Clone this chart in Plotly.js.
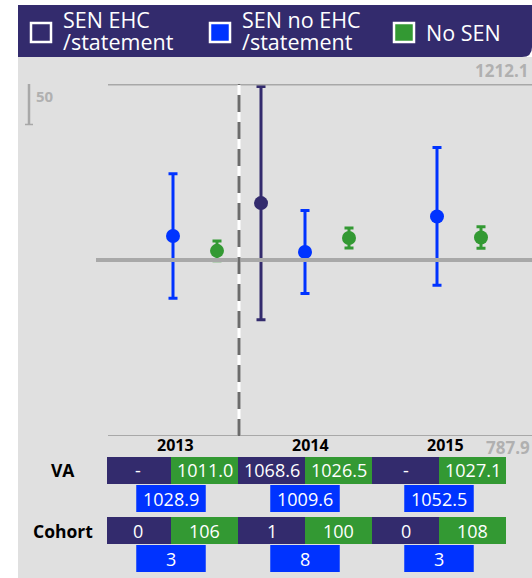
<!DOCTYPE html>
<html>
<head>
<meta charset="utf-8">
<script src="https://cdn.plot.ly/plotly-3.0.1.min.js"></script>
<style>html,body{margin:0;padding:0;background:#fff;}#chart{width:532px;height:578px;}</style>
</head>
<body>
<div id="chart"></div>
<script>
// ---- data ----
const years = ['2013', '2014', '2015'];
const seriesNames = ['SEN EHC', 'SEN no EHC', 'No SEN'];
const ehcVA = [null, 1068.6, null];
const ehcErr = [null, 140.5, null];
const noEhcVA = [1028.9, 1009.6, 1052.5];
const noEhcErr = [75, 50, 83];
const noSenVA = [1011.0, 1026.5, 1027.1];
const noSenErr = [12, 12, 13];
const ehcCohort = [0, 1, 0];
const noEhcCohort = [3, 8, 3];
const noSenCohort = [106, 100, 108];
const yMin = 787.9, yMax = 1212.1, yMid = 1000;
const scaleLen = 50;

// ---- style ----
const NAVY = '#332b6d', BLUE = '#0033ff', GREEN = '#339933', BG = '#e0e0e0', LINE = '#a8a8a8', LBL = '#b0b0b0';
const FONT = 'Open Sans, Noto Sans, sans-serif';
const L = 107, T = 84, PW = 425, PH = 352, Y0 = T + PH;
const px = x => (x - L) / PW;
const py = y => (Y0 - y) / PH;

function errTrace(vals, errs, off, color) {
  const x = [], y = [], e = [];
  vals.forEach((v, i) => { if (v !== null) { x.push(i + off); y.push(v); e.push(errs[i]); } });
  return {
    type: 'scatter', mode: 'markers', x, y, hoverinfo: 'skip', showlegend: false,
    marker: {color, size: 14},
    error_y: {type: 'data', array: e, visible: true, color, thickness: 3, width: 4.5}
  };
}
const traces = [
  errTrace(ehcVA, ehcErr, -1/3, NAVY),
  errTrace(noEhcVA, noEhcErr, 0, BLUE),
  errTrace(noSenVA, noSenErr, 1/3, GREEN)
];

const shapes = [];
const ann = [];
// background
shapes.push({type: 'rect', xref: 'paper', yref: 'paper', x0: px(18), x1: 1, y0: py(578), y1: py(57), fillcolor: BG, line: {width: 0}, layer: 'below'});
// legend bar with rounded bottom-right corner
(function () {
  const x0 = px(18), x1 = 1, yt = py(5), yb = py(57), rx = 10 / PW, ry = 10 / PH;
  shapes.push({type: 'path', xref: 'paper', yref: 'paper', layer: 'below',
    path: `M ${x0},${yt} L ${x1},${yt} L ${x1},${yb + ry} Q ${x1},${yb} ${x1 - rx},${yb} L ${x0},${yb} Z`,
    fillcolor: NAVY, line: {width: 0}});
})();
// legend items
const legX = [30, 209, 393];
const legCol = [NAVY, BLUE, GREEN];
legX.forEach((x, k) => {
  shapes.push({type: 'rect', xref: 'paper', yref: 'paper', x0: px(x + 1), x1: px(x + 21), y0: py(42), y1: py(23), fillcolor: legCol[k], line: {color: '#ffffff', width: 2.5}});
});
const legTxt = [[seriesNames[0], '/statement'], [seriesNames[1], '/statement'], [seriesNames[2]]];
const LF = {family: FONT, size: 21.5, color: '#ffffff'};
legTxt.forEach((lines, k) => {
  const tx = legX[k] + 31;
  if (lines.length === 2) {
    ann.push({xref: 'paper', yref: 'paper', x: px(tx), y: py(20), text: lines[0], showarrow: false, xanchor: 'left', yanchor: 'middle', font: LF});
    ann.push({xref: 'paper', yref: 'paper', x: px(tx), y: py(41), text: lines[1], showarrow: false, xanchor: 'left', yanchor: 'middle', font: LF});
  } else {
    ann.push({xref: 'paper', yref: 'paper', x: px(tx), y: py(32), text: lines[0], showarrow: false, xanchor: 'left', yanchor: 'middle', font: LF});
  }
});
// reference lines
shapes.push({type: 'line', xref: 'paper', yref: 'y', x0: px(108), x1: 1, y0: yMax, y1: yMax, line: {color: LINE, width: 3}});
shapes.push({type: 'line', xref: 'paper', yref: 'y', x0: px(96), x1: 1, y0: yMid, y1: yMid, line: {color: LINE, width: 4}});
shapes.push({type: 'line', xref: 'paper', yref: 'y', x0: px(108), x1: 1, y0: yMin, y1: yMin, line: {color: LINE, width: 2}});
// dashed divider
shapes.push({type: 'line', xref: 'x', yref: 'y', x0: 0.5, x1: 0.5, y0: yMin, y1: yMax, line: {color: '#ffffff', width: 3}});
shapes.push({type: 'line', xref: 'x', yref: 'y', x0: 0.5, x1: 0.5, y0: yMin, y1: yMax, line: {color: '#6b6b6b', width: 3, dash: '17px,10px'}});
// scale bar
const sbTop = yMax + 1.2;
shapes.push({type: 'line', xref: 'paper', yref: 'y', x0: px(29), x1: px(29), y0: sbTop, y1: sbTop - scaleLen, line: {color: LINE, width: 2.5}});
shapes.push({type: 'line', xref: 'paper', yref: 'y', x0: px(25), x1: px(33), y0: sbTop, y1: sbTop, line: {color: LINE, width: 1.5}});
shapes.push({type: 'line', xref: 'paper', yref: 'y', x0: px(25), x1: px(33), y0: sbTop - scaleLen, y1: sbTop - scaleLen, line: {color: LINE, width: 1.5}});
ann.push({xref: 'paper', yref: 'paper', x: px(34), y: py(96), text: '<b>' + scaleLen + '</b>', showarrow: false, xanchor: 'left', yanchor: 'middle', font: {family: FONT, size: 15, color: LBL}});
ann.push({xref: 'paper', yref: 'paper', x: px(530), y: py(70), text: '<b>' + yMax.toFixed(1) + '</b>', showarrow: false, xanchor: 'right', yanchor: 'middle', font: {family: FONT, size: 17, color: LBL}});
ann.push({xref: 'paper', yref: 'paper', x: px(532), y: py(447), text: '<b>' + yMin.toFixed(1) + '</b>', showarrow: false, xanchor: 'right', yanchor: 'middle', font: {family: FONT, size: 17, color: LBL}});
// year labels
const yearShift = [2, 5, 8];
years.forEach((yr, i) => {
  ann.push({xref: 'x', yref: 'paper', x: i, y: py(445), xshift: yearShift[i], text: '<b>' + yr + '</b>', showarrow: false, xanchor: 'center', yanchor: 'middle', font: {family: FONT, size: 16, color: '#000000'}});
});
// table rows
ann.push({xref: 'paper', yref: 'paper', x: px(63), y: py(470), text: '<b>VA</b>', showarrow: false, xanchor: 'center', yanchor: 'middle', font: {family: FONT, size: 17.5, color: '#000000'}});
ann.push({xref: 'paper', yref: 'paper', x: px(63), y: py(531), text: '<b>Cohort</b>', showarrow: false, xanchor: 'center', yanchor: 'middle', font: {family: FONT, size: 17.5, color: '#000000'}});
const cellW = 67 / 132, blueW = 69.5 / 132;
function cell(xc, w, ytop, ybot, color, text) {
  shapes.push({type: 'rect', xref: 'x', yref: 'paper', x0: xc - w / 2, x1: xc + w / 2, y0: py(ybot), y1: py(ytop), fillcolor: color, line: {width: 0}});
  ann.push({xref: 'x', yref: 'paper', x: xc, y: py((ytop + ybot) / 2), text: text, showarrow: false, xanchor: 'center', yanchor: 'middle', font: {family: FONT, size: 18, color: '#ffffff'}});
}
years.forEach((yr, i) => {
  const c = i * (1 + 2 / 132) - 2 / 132;
  cell(c - cellW / 2, cellW, 457, 484, NAVY, ehcVA[i] === null ? '-' : ehcVA[i].toFixed(1));
  cell(c + cellW / 2, cellW, 457, 484, GREEN, noSenVA[i].toFixed(1));
  cell(c, blueW, 485, 512, BLUE, noEhcVA[i].toFixed(1));
  cell(c - cellW / 2, cellW, 517, 544, NAVY, String(ehcCohort[i]));
  cell(c + cellW / 2, cellW, 517, 544, GREEN, String(noSenCohort[i]));
  cell(c, blueW, 545, 572, BLUE, String(noEhcCohort[i]));
});

const layout = {
  width: 532, height: 578,
  margin: {l: L, r: 0, t: T, b: 578 - Y0, pad: 0},
  paper_bgcolor: '#ffffff', plot_bgcolor: 'rgba(0,0,0,0)',
  xaxis: {range: [-0.5, (532 - 173) / 132], visible: false, fixedrange: true},
  yaxis: {range: [yMin, yMax], visible: false, fixedrange: true},
  shapes, annotations: ann, showlegend: false,
  font: {family: FONT}
};
Plotly.newPlot('chart', traces, layout, {displayModeBar: false, staticPlot: true});
</script>
</body>
</html>
